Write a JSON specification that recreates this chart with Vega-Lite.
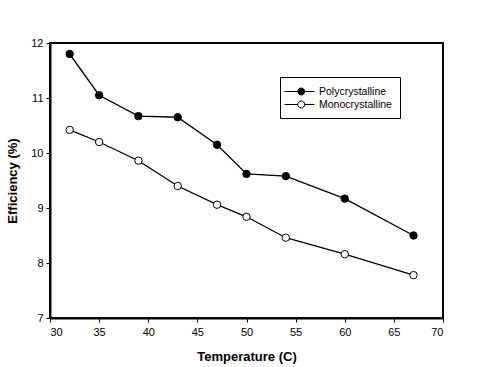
{
  "$schema": "https://vega.github.io/schema/vega-lite/v6.json",
  "width": 393,
  "height": 275,
  "autosize": "none",
  "padding": {"left": 50, "top": 43, "right": 36, "bottom": 49},
  "background": "white",
  "config": {
    "font": "Liberation Sans",
    "view": {"stroke": "black", "strokeWidth": 2},
    "axis": {
      "grid": false,
      "domainColor": "black",
      "domainWidth": 2,
      "tickColor": "black",
      "tickSize": 4,
      "labelFont": "Liberation Sans",
      "labelFontSize": 11,
      "labelColor": "black",
      "titleFont": "Liberation Sans",
      "titleFontSize": 13,
      "titleFontWeight": "bold",
      "titleColor": "black"
    }
  },
  "data": {
    "values": [
      {"t": 32, "eff": 11.8, "series": "Polycrystalline"},
      {"t": 35, "eff": 11.05, "series": "Polycrystalline"},
      {"t": 39, "eff": 10.67, "series": "Polycrystalline"},
      {"t": 43, "eff": 10.65, "series": "Polycrystalline"},
      {"t": 47, "eff": 10.15, "series": "Polycrystalline"},
      {"t": 50, "eff": 9.62, "series": "Polycrystalline"},
      {"t": 54, "eff": 9.58, "series": "Polycrystalline"},
      {"t": 60, "eff": 9.17, "series": "Polycrystalline"},
      {"t": 67, "eff": 8.5, "series": "Polycrystalline"},
      {"t": 32, "eff": 10.42, "series": "Monocrystalline"},
      {"t": 35, "eff": 10.2, "series": "Monocrystalline"},
      {"t": 39, "eff": 9.86, "series": "Monocrystalline"},
      {"t": 43, "eff": 9.4, "series": "Monocrystalline"},
      {"t": 47, "eff": 9.06, "series": "Monocrystalline"},
      {"t": 50, "eff": 8.84, "series": "Monocrystalline"},
      {"t": 54, "eff": 8.46, "series": "Monocrystalline"},
      {"t": 60, "eff": 8.16, "series": "Monocrystalline"},
      {"t": 67, "eff": 7.78, "series": "Monocrystalline"}
    ]
  },
  "encoding": {
    "x": {
      "field": "t", "type": "quantitative",
      "scale": {"domain": [30, 70], "nice": false, "zero": false},
      "axis": {"values": [30, 35, 40, 45, 50, 55, 60, 65, 70], "title": "Temperature (C)", "titlePadding": 13, "labelPadding": 4}
    },
    "y": {
      "field": "eff", "type": "quantitative",
      "scale": {"domain": [7, 12], "nice": false, "zero": false},
      "axis": {"values": [7, 8, 9, 10, 11, 12], "title": "Efficiency (%)", "titlePadding": 11, "labelPadding": 3}
    }
  },
  "layer": [
    {
      "mark": {"type": "line", "color": "black", "strokeWidth": 1.3},
      "encoding": {"detail": {"field": "series"}}
    },
    {
      "mark": {"type": "point", "shape": "circle", "filled": false, "stroke": "black", "strokeWidth": 1, "size": 55, "opacity": 1},
      "encoding": {
        "fill": {
          "field": "series", "type": "nominal",
          "scale": {"domain": ["Polycrystalline", "Monocrystalline"], "range": ["black", "white"]},
          "legend": {
            "title": null,
            "orient": "none",
            "legendX": 230,
            "legendY": 34,
            "padding": 8,
            "strokeColor": "black",
            "fillColor": "white",
            "symbolType": "M -1.67,0 L 0.54,0 M 1.7,0 L 3.33,0 M 0.54,0 A 0.58,0.58 0 1,0 1.7,0 A 0.58,0.58 0 1,0 0.54,0 Z",
            "symbolSize": 144,
            "symbolStrokeColor": "black",
            "symbolStrokeWidth": 1,
            "symbolOpacity": 1,
            "labelFont": "Liberation Sans",
            "labelFontSize": 10.5,
            "labelColor": "black",
            "rowPadding": 1,
            "labelOffset": 18
          }
        }
      }
    }
  ]
}
